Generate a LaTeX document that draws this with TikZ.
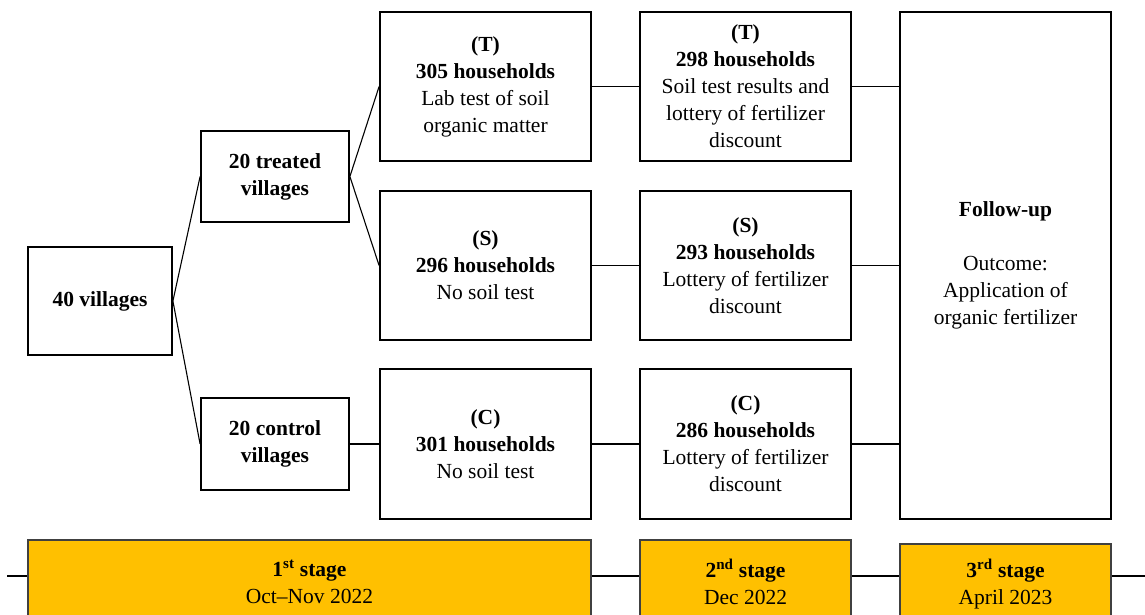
\documentclass[tikz,border=0pt]{standalone}
\usepackage{fontspec}
\setmainfont{Liberation Serif}
\definecolor{stagefill}{HTML}{FFC000}
\definecolor{stageline}{HTML}{404040}
\begin{document}
\begin{tikzpicture}[x=1pt,y=-1pt,
  every node/.style={font=\fontsize{21.5}{27}\selectfont},
  box/.style={draw=black, line width=1.8pt, inner sep=0pt, align=center, fill=white},
  stagebox/.style={draw=stageline, line width=1.5pt, fill=stagefill, inner sep=0pt, align=center},
  link/.style={line width=1.1pt, draw=black}]
\useasboundingbox (0,0) rectangle (1145,614);
% timeline
\coordinate (tlL) at (7,576);
\coordinate (tlR) at (1150,576);
\draw[link] (tlL) -- (tlR);
% boxes
\node[box, minimum width=144, minimum height=108] (v40) at (100,301) {\textbf{40 villages}};
\node[box, minimum width=148, minimum height=91] (tv) at (275,176.5) {\textbf{20 treated}\\\textbf{villages}};
\node[box, minimum width=148, minimum height=92] (cv) at (275,444) {\textbf{20 control}\\\textbf{villages}};
\node[box, minimum width=211, minimum height=149] (t1) at (485.5,86.5) {\textbf{(T)}\\\textbf{305 households}\\Lab test of soil\\organic matter};
\node[box, minimum width=211, minimum height=149] (s1) at (485.5,265.5) {\textbf{(S)}\\\textbf{296 households}\\No soil test};
\node[box, minimum width=211, minimum height=150] (c1) at (485.5,444) {\textbf{(C)}\\\textbf{301 households}\\No soil test};
\node[box, minimum width=211, minimum height=149] (t2) at (745.5,86.5) {\textbf{(T)}\\\textbf{298 households}\\Soil test results and\\lottery of fertilizer\\discount};
\node[box, minimum width=211, minimum height=149] (s2) at (745.5,265.5) {\textbf{(S)}\\\textbf{293 households}\\Lottery of fertilizer\\discount};
\node[box, minimum width=211, minimum height=150] (c2) at (745.5,444) {\textbf{(C)}\\\textbf{286 households}\\Lottery of fertilizer\\discount};
\node[box, minimum width=211, minimum height=507] (fu) at (1005.5,265.5) {\textbf{Follow-up}\\[27pt]Outcome:\\Application of\\organic fertilizer};
% stages
\node[stagebox, minimum width=563, minimum height=84] (st1) at (309.5,582) {\textbf{1\textsuperscript{st} stage}\\Oct--Nov 2022};
\node[stagebox, minimum width=211, minimum height=84] (st2) at (745.5,582) {\textbf{2\textsuperscript{nd} stage}\\Dec 2022};
\node[stagebox, minimum width=211, minimum height=80] (st3) at (1005.5,584) {\textbf{3\textsuperscript{rd} stage}\\April 2023};
% connectors
\draw[link] (v40.east) -- (tv.west);
\draw[link] (v40.east) -- (cv.west);
\draw[link] (tv.east) -- (t1.west);
\draw[link] (tv.east) -- (s1.west);
\draw[link] (cv.east) -- (c1.west);
\draw[link] (t1.east) -- (t2.west);
\draw[link] (s1.east) -- (s2.west);
\draw[link] (c1.east) -- (c2.west);
\draw[link] (t2.east) -- (t2.east -| fu.west);
\draw[link] (s2.east) -- (s2.east -| fu.west);
\draw[link] (c2.east) -- (c2.east -| fu.west);
\end{tikzpicture}
\end{document}
